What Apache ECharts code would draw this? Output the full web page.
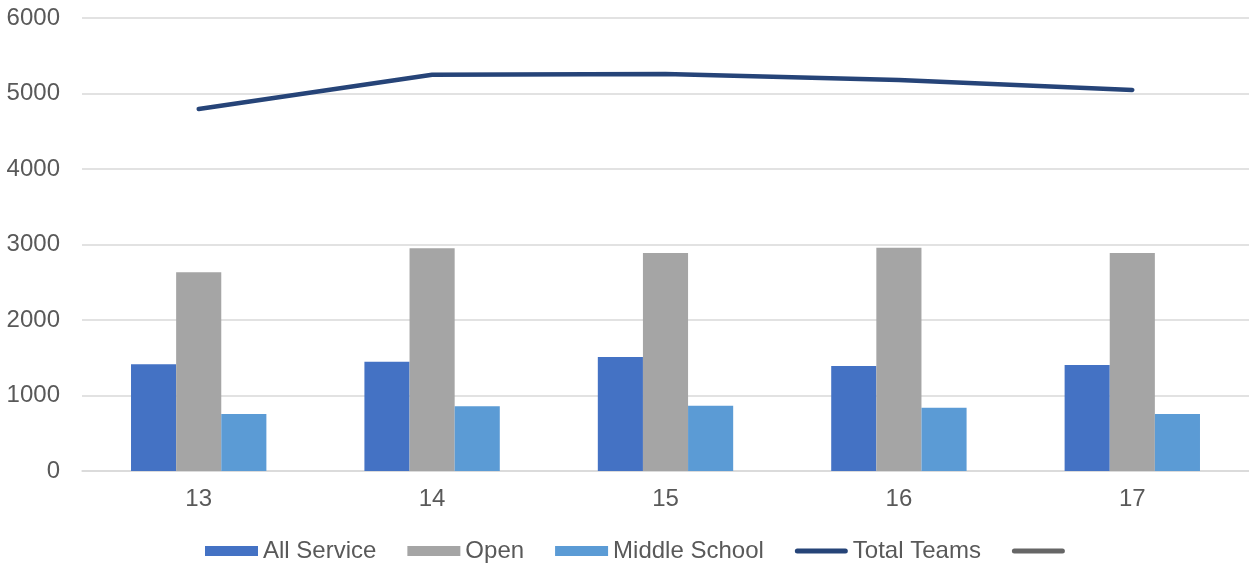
<!DOCTYPE html>
<html>
<head>
<meta charset="utf-8">
<script src="https://cdn.jsdelivr.net/npm/echarts@6/dist/echarts.min.js"></script>
<style>
html,body{margin:0;padding:0;background:#fff;}
#chart{width:1249px;height:565px;}
</style>
</head>
<body>
<div id="chart"></div>
<script>
var categories = ['13', '14', '15', '16', '17'];
var allService = [1413, 1448, 1510, 1391, 1404];
var openTeams = [2632, 2950, 2887, 2958, 2887];
var middleSchool = [755, 857, 865, 839, 755];
var totalTeams = [4795, 5249, 5258, 5180, 5046];
var blankSeries = [null, null, null, null, null];
var yTicks = [0, 1000, 2000, 3000, 4000, 5000, 6000];

var font = 'Liberation Sans, Arial, sans-serif';
var lineIcon = 'path://M2.5,0 L50.5,0 A2.5,2.5 0 0 1 50.5,5 L2.5,5 A2.5,2.5 0 0 1 2.5,0 Z';
var chart = echarts.init(document.getElementById('chart'), null, {renderer: 'canvas'});
chart.setOption({
  animation: false,
  backgroundColor: '#ffffff',
  grid: {left: 82, right: 0, top: 18, bottom: 94, containLabel: false},
  legend: {
    left: 200, top: 534,
    itemWidth: 53, itemHeight: 10, itemGap: 31,
    symbolKeepAspect: true,
    textStyle: {color: '#595959', fontSize: 24, fontFamily: font, lineHeight: 24},
    data: [
      {name: 'All Service', icon: 'rect'},
      {name: 'Open', icon: 'rect'},
      {name: 'Middle School', icon: 'rect'},
      {name: 'Total Teams', icon: lineIcon, itemStyle: {color: '#264478', borderWidth: 0}, lineStyle: {width: 0}},
      {name: ' ', icon: lineIcon, itemStyle: {color: '#666666', borderWidth: 0}, lineStyle: {width: 0}}
    ]
  },
  xAxis: {
    type: 'category',
    data: categories,
    axisLine: {show: true, lineStyle: {color: '#d9d9d9', width: 1.5}},
    axisTick: {show: false},
    axisLabel: {color: '#595959', fontSize: 24, fontFamily: font, margin: 16}
  },
  yAxis: {
    type: 'value',
    min: yTicks[0], max: yTicks[yTicks.length - 1], interval: 1000,
    axisLine: {show: false},
    axisTick: {show: false},
    splitLine: {lineStyle: {color: '#d9d9d9', width: 1.5}},
    axisLabel: {color: '#595959', fontSize: 24, fontFamily: font, margin: 22,
      formatter: function (v) { return String(v); }}
  },
  series: [
    {name: 'All Service', type: 'bar', data: allService, barGap: '0%', barCategoryGap: '42%',
     itemStyle: {color: '#4472C4'}},
    {name: 'Open', type: 'bar', data: openTeams, barGap: '0%', barCategoryGap: '42%',
     itemStyle: {color: '#A5A5A5'}},
    {name: 'Middle School', type: 'bar', data: middleSchool, barGap: '0%', barCategoryGap: '42%',
     itemStyle: {color: '#5B9BD5'}},
    {name: 'Total Teams', type: 'line', data: totalTeams, symbol: 'none',
     lineStyle: {color: '#264478', width: 4.5, cap: 'round', join: 'round'},
     itemStyle: {color: '#264478'}},
    {name: ' ', type: 'line', data: blankSeries, symbol: 'none',
     lineStyle: {color: '#666666', width: 4.5, cap: 'round'},
     itemStyle: {color: '#666666'}}
  ]
});
</script>
</body>
</html>
